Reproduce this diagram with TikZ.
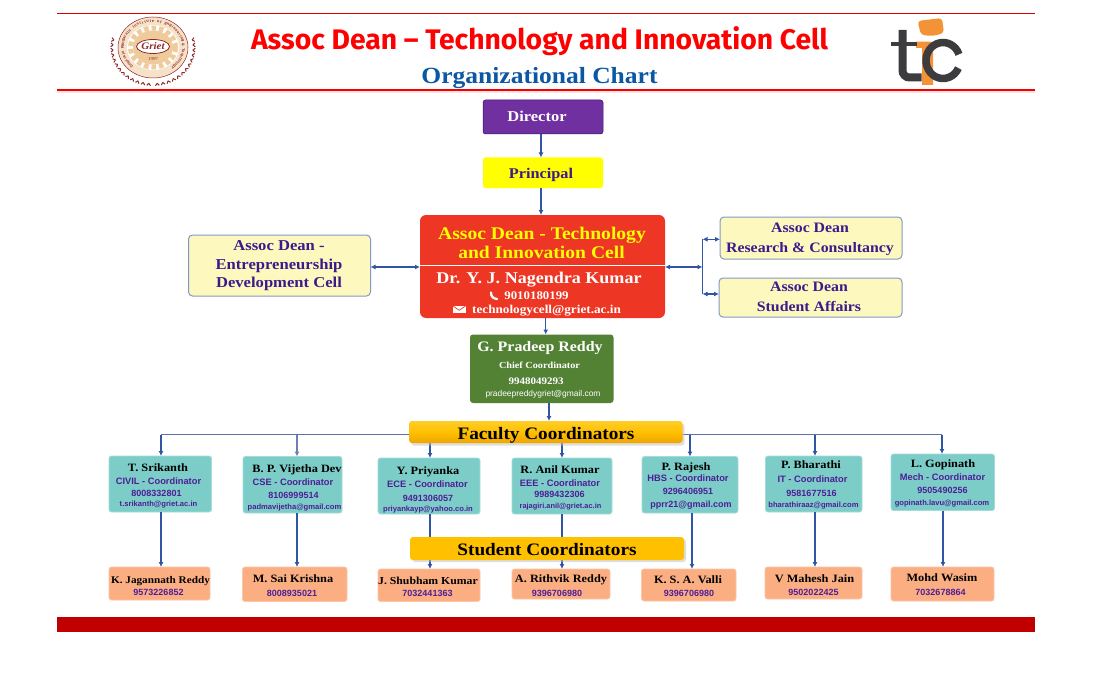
\documentclass[tikz,border=0pt]{standalone}
\usepackage{fontspec}
\setmainfont[FakeStretch=1.1]{Liberation Serif}
\setsansfont{Liberation Sans}
\newfontfamily\titlefont{Fira Sans}
\usetikzlibrary{arrows.meta,calc}
\definecolor{ink}{HTML}{3A1A8C}
\definecolor{pur}{HTML}{4F1E96}
\definecolor{lineblue}{HTML}{2F55A4}
\definecolor{linegrey}{HTML}{6F7FB0}
\definecolor{teal1}{HTML}{7CCDC8}
\definecolor{peach}{HTML}{FBAE82}
\definecolor{pale}{HTML}{FDF8BE}
\definecolor{gold}{HTML}{FFC000}
\definecolor{logotan}{HTML}{EFCB9B}
\definecolor{logored}{HTML}{8E2A2A}
\definecolor{ticdark}{HTML}{3C3C3E}
\definecolor{ticor}{HTML}{F39237}
\definecolor{redfill}{RGB}{238,54,36}
\definecolor{pureyel}{RGB}{255,255,0}
\definecolor{purered}{RGB}{255,0,0}
\newcommand{\bx}[7]{\node[#1,minimum width=#5-#3,minimum height=#7-#6] (#2) at ({(#3+#5)/2},{(#6+#7)/2}) {};}
\newcommand{\fsz}[1]{\fontsize{#1}{#1}\selectfont}
\tikzset{
  box/.style={rounded corners=2.5pt,inner sep=0pt,outer sep=0pt},
  teachbox/.style={box,fill=teal1,draw=teal1!70!white,line width=.8pt},
  studbox/.style={box,fill=peach,draw=peach!70!white,line width=.8pt},
  palebox/.style={box,fill=pale,draw=lineblue!60!white,line width=1pt,rounded corners=4pt},
  conn/.style={draw=lineblue,line width=1.15pt,-{Latex[length=5pt,width=5pt]}},
  both/.style={draw=lineblue,line width=1.15pt,{Latex[length=5pt,width=5pt]}-{Latex[length=5pt,width=5pt]}},
  plainln/.style={draw=lineblue,line width=1.4pt},
  txt/.style={inner sep=0pt,outer sep=0pt},
  srf/.style={txt,font=\bfseries\fsz{#1}},
  snsf/.style={txt,font=\sffamily\bfseries\fsz{#1},text=pur},
  barbox/.style={box,rounded corners=3pt,draw=none},
}
\begin{document}
\begin{tikzpicture}[x=1pt,y=-1pt]
\useasboundingbox (0,0) rectangle (1106,690);
\fill[white] (0,0) rectangle (1106,690);
% header rules
\coordinate (ruleAl) at (57,13.5); \coordinate (ruleAr) at (1035,13.5);
\draw[purered!85!black,line width=1.1pt] (ruleAl) -- (ruleAr);
\coordinate (ruleBl) at (57,90.3); \coordinate (ruleBr) at (1035,90.3);
\fill[purered!12] (57,91) rectangle (1035,93);
\draw[purered!95!black,line width=1.8pt] (ruleBl) -- (ruleBr);
\fill[fill={rgb,255:red,192;green,0;blue,0}] (57,617) rectangle (1035,632);
% titles
\node[txt,font=\titlefont\bfseries\fsz{28.3},text=purered] (title) at (539.5,41.5) {Assoc Dean – Technology and Innovation Cell};
\node[txt,font=\bfseries\fsz{23.2},text={rgb,255:red,10;green,87;blue,164}] (sub) at (539.5,78) {Organizational Chart};
% griet logo
\coordinate (lg) at (153,47.5);
\fill[logotan!55!white] (lg) ellipse (35 and 30.5);
\draw[logored,line width=.5pt] (lg) ellipse (35 and 30.5);
\fill[white] (lg) ellipse (26 and 22.5);
\draw[logotan,line width=5pt,dash pattern=on 4.5pt off 3pt] (lg) ellipse (22.5 and 19.5);
\fill[logotan] (lg) ellipse (20 and 17);
\fill[white] (153,46.5) ellipse (16.5 and 7);
\draw[logored,line width=.8pt] (153,46.5) ellipse (16.5 and 7);
\node[txt,font=\itshape\bfseries\fsz{10},text=logored] (griet) at (153,46.5) {Griet};
\node[txt,font=\fsz{4.5},text=logored] (yr) at (153,59) {1997};
\foreach \ch [count=\i] in {G,o,k,a,r,a,j,u,{},R,a,n,g,a,r,a,j,u,{},I,n,s,t,i,t,u,t,e,{},o,f,{},E,n,g,i,n,e,e,r,i,n,g,{},\&,{},T,e,c,h,n,o,l,o,g,y}{
  \pgfmathsetmacro{\ang}{-225+(\i-1)*270/54}
  \pgfmathsetmacro{\rot}{-\ang-90}
  \node[txt,font=\sffamily\bfseries\fsz{3.9},text=logored,rotate=\rot] (gl\i) at ($(lg)+(\ang:30.5 and 26.5)$) {\ch};
}
\foreach \a [count=\i] in {-12,-4,...,84,96,104,...,192}{
  \coordinate (lf\i) at ($(lg)+(\a:40 and 36)$);
  \draw[logored,line width=1pt] (lf\i) -- ++(\a+40:3);
  \draw[logored,line width=1pt] (lf\i) -- ++(\a-40:3);
}
% tic logo
\fill[ticor,rounded corners=3.5pt] (917.5,21) -- (942,18) -- (944,33) -- (933,36) -- (921,35) -- cycle;
\fill[ticor] (916,41.7) -- (931,41.7) -- (933,45) -- (933,85) -- (922,85) -- (922,48) -- (916,48) -- cycle;
\draw[ticdark,line width=8pt,rounded corners=7pt] (902.5,30) -- (902.5,77.5) -- (921.5,77.5);
\draw[ticdark,line width=4.5pt] (891,44) -- (917,44);
\draw[ticdark,line width=7.5pt] ($(943,60.5)+(-20:17 and 18)$) arc[start angle=-20,end angle=-335,x radius=17,y radius=18];
% top boxes
\bx{box,fill={rgb,255:red,112;green,48;blue,160},draw=pur!70!black,line width=.5pt}{dir}{483}{}{603}{100}{134}
\node[srf=15,text=white] (dirT) at (537,116.5) {Director};
\bx{box,fill=pureyel}{pri}{483}{}{603}{157.5}{188}
\node[srf=14.8,text=ink] (priT) at (541,174.5) {Principal};
\bx{box,fill=redfill,rounded corners=6pt}{redb}{420}{}{665}{215}{318}
\coordinate (sepL) at (420,265); \coordinate (sepR) at (665,265);
\draw[white,line width=1pt] (sepL) -- (sepR);
\node[srf=17.8,text=pureyel] (r1) at (542,235) {Assoc Dean - Technology};
\node[srf=17.8,text=pureyel] (r2) at (541.5,252) {and Innovation Cell};
\node[srf=16.4,text=white] (r3) at (539,280) {Dr. Y. J. Nagendra Kumar};
\draw[white,line width=2.3pt,line cap=round] (491,292.5) .. controls (491,296.5) and (493,298.5) .. (497,299);
\node[srf=11.7,text=white] (r4) at (536.5,295.5) {9010180199};
\fill[white] (453,306) rectangle (465.5,313);
\draw[redfill,line width=.7pt] (453,306) -- (459.2,310.3) -- (465.5,306);
\node[srf=12,text=white] (r5) at (546.5,310.5) {technologycell@griet.ac.in};
% side boxes
\bx{palebox}{ed}{188.5}{}{370.5}{235}{296}
\node[srf=15.1,text=ink] (ed1) at (279,245.5) {Assoc Dean -};
\node[srf=15.1,text=ink] (ed2) at (279,266) {Entrepreneurship};
\node[srf=15.1,text=ink] (ed3) at (279,284) {Development Cell};
\bx{palebox}{rc}{720}{}{902}{217}{259}
\node[srf=14.4,text=ink] (rc1) at (810,228) {Assoc Dean};
\node[srf=14.4,text=ink] (rc2) at (810,249.5) {Research \& Consultancy};
\bx{palebox}{sa}{719}{}{902}{278}{317}
\node[srf=14.4,text=ink] (sa1) at (809,287) {Assoc Dean};
\node[srf=14.4,text=ink] (sa2) at (809,306.5) {Student Affairs};
% chief
\bx{box,fill={rgb,255:red,84;green,130;blue,53},rounded corners=3pt}{ch}{470}{}{613.5}{334.5}{403}
\node[srf=14.5,text=white] (ch1) at (540,348.5) {G. Pradeep Reddy};
\node[srf=9.3,text=white] (ch2) at (539.5,365) {Chief Coordinator};
\node[srf=10,text=white] (ch3) at (536,381) {9948049293};
\node[txt,font=\sffamily\fsz{8.4},text=white] (ch4) at (543,394.5) {pradeepreddygriet@gmail.com};
% main connectors
\coordinate (xa) at (541,0);\coordinate (xb) at (545.7,0);\coordinate (xc) at (549,0);
\draw[conn] (xa |- dir.south) -- (xa |- pri.north);
\draw[conn] (xa |- pri.south) -- (xa |- redb.north);
\draw[conn] (xb |- redb.south) -- (xb |- ch.north);
\coordinate (ly) at (0,267);
\draw[both] (ed.east |- ly) -- (redb.west |- ly);
\coordinate (bk) at (702.5,267);
\draw[both] (redb.east |- ly) -- (bk);
\coordinate (bkT) at (702.5,239.3);\coordinate (bkB) at (702.5,294);
\draw[both] (bkT) -- (rc.west |- bkT);
\draw[both] (bkB) -- (sa.west |- bkB);
\draw[plainln] (bkT) -- (bkB);
% teachers
\bx{teachbox}{t1}{109}{}{211.5}{456}{512}
\bx{teachbox}{t2}{243}{}{342}{456.5}{513}
\bx{teachbox}{t3}{378}{}{480}{458}{514}
\bx{teachbox}{t4}{512}{}{612}{458}{514}
\bx{teachbox}{t5}{642}{}{738}{456.5}{513}
\bx{teachbox}{t6}{765.5}{}{862}{456}{512}
\bx{teachbox}{t7}{891}{}{994.5}{454}{510.5}
% students
\bx{studbox}{s1}{109}{}{210}{567}{600}
\bx{studbox}{s2}{242.5}{}{347}{567}{601.5}
\bx{studbox}{s3}{378}{}{480}{569}{601.5}
\bx{studbox}{s4}{512}{}{610}{569}{599}
\bx{studbox}{s5}{641.5}{}{736}{569}{601}
\bx{studbox}{s6}{765}{}{862}{567}{599}
\bx{studbox}{s7}{891}{}{994}{567}{601}
% bar line and drops
\coordinate (h1) at (161,434.5);\coordinate (h2) at (297,434.5);\coordinate (h3) at (430,434.5);
\coordinate (h4) at (562,434.5);\coordinate (h5) at (690,434.5);\coordinate (h6) at (815,434.5);\coordinate (h7) at (942,434.5);
\draw[plainln,draw=linegrey!70!lineblue,line width=1.3pt] (h1) -- (h7);
\draw[conn] (h1) -- (h1 |- t1.north);
\draw[conn,draw=linegrey] (h2) -- (h2 |- t2.north);
\draw[conn] (h3) -- (h3 |- t3.north);
\draw[conn] (h4) -- (h4 |- t4.north);
\draw[conn] (h5) -- (h5 |- t5.north);
\draw[conn] (h6) -- (h6 |- t6.north);
\draw[conn] (h7) -- (h7 |- t7.north);
% down connectors
\coordinate (d1) at (161,0);\coordinate (d2) at (297,0);\coordinate (d3) at (430,0);\coordinate (d4) at (562,0);
\coordinate (d5) at (692,0);\coordinate (d6) at (815,0);\coordinate (d7) at (943,0);
\foreach \i in {1,...,7}{\draw[conn] (d\i |- t\i.south) -- (d\i |- s\i.north);}
% bars
\fill[black!25,opacity=.5,rounded corners=3pt] (411,423.5) rectangle (684.5,445.5);
\bx{barbox,top color={rgb,255:red,255;green,205;blue,40},bottom color={rgb,255:red,238;green,165;blue,0},middle color=gold}{fac}{409}{}{682.5}{421}{443}
\node[srf=17.5,text=black] (facT) at (546,435) {Faculty Coordinators};
\fill[black!25,opacity=.5,rounded corners=3pt] (412,539) rectangle (686,562);
\bx{barbox,fill=gold}{stu}{410}{}{684}{537}{560}
\node[srf=17.5,text=black] (stuT) at (547,550) {Student Coordinators};
\draw[conn] (xc |- ch.south) -- (xc |- fac.north);
% teacher text
\node[srf=11.2] (a1) at (158,467.5) {T. Srikanth};
\node[snsf=9.3] (b1) at (158.5,481) {CIVIL - Coordinator};
\node[snsf=9] (c1) at (156.5,493.5) {8008332801};
\node[snsf=7.6] (e1) at (158.5,505) {t.srikanth@griet.ac.in};
\node[srf=11.2] (a2) at (297,469.5) {B. P. Vijetha Dev};
\node[snsf=9.3] (b2) at (293,482.5) {CSE - Coordinator};
\node[snsf=9] (c2) at (293.5,495.5) {8106999514};
\node[snsf=7.6] (e2) at (294.5,508) {padmavijetha@gmail.com};
\node[srf=11.2] (a3) at (428,472) {Y. Priyanka};
\node[snsf=9.3] (b3) at (427.5,484.5) {ECE - Coordinator};
\node[snsf=9] (c3) at (428,498) {9491306057};
\node[snsf=7.6] (e3) at (428,509.5) {priyankayp@yahoo.co.in};
\node[srf=11.2] (a4) at (560,469.5) {R. Anil Kumar};
\node[snsf=9.3] (b4) at (560,483) {EEE - Coordinator};
\node[snsf=9] (c4) at (559.5,494.5) {9989432306};
\node[snsf=7.4] (e4) at (560.5,507) {rajagiri.anil@griet.ac.in};
\node[srf=11.2] (a5) at (686,467.5) {P. Rajesh};
\node[snsf=9.3] (b5) at (688,478.5) {HBS - Coordinator};
\node[snsf=9] (c5) at (688,491.5) {9296406951};
\node[snsf=9] (e5) at (691,505) {pprr21@gmail.com};
\node[srf=11.2] (a6) at (811,465) {P. Bharathi};
\node[snsf=9.3] (b6) at (812.5,479.5) {IT - Coordinator};
\node[snsf=9] (c6) at (811.5,493) {9581677516};
\node[snsf=7.6] (e6) at (813.5,505.5) {bharathiraaz@gmail.com};
\node[srf=11.2] (a7) at (943,464.5) {L. Gopinath};
\node[snsf=9.3] (b7) at (942.5,477) {Mech - Coordinator};
\node[snsf=9] (c7) at (942.5,490) {9505490256};
\node[snsf=7.6] (e7) at (942,503.5) {gopinath.lavu@gmail.com};
% student text
\node[srf=10.2] (n1) at (160.5,581) {K. Jagannath Reddy};
\node[snsf=9] (p1) at (158.5,592.5) {9573226852};
\node[srf=11.2] (n2) at (293,579) {M. Sai Krishna};
\node[snsf=9] (p2) at (292,593) {8008935021};
\node[srf=10.7] (n3) at (428,580.5) {J. Shubham Kumar};
\node[snsf=9] (p3) at (427.5,593.5) {7032441363};
\node[srf=11.2] (n4) at (561,579.5) {A. Rithvik Reddy};
\node[snsf=9] (p4) at (557,593) {9396706980};
\node[srf=11.2] (n5) at (688,579.5) {K. S. A. Valli};
\node[snsf=9] (p5) at (689,593) {9396706980};
\node[srf=11.2] (n6) at (814.5,579) {V Mahesh Jain};
\node[snsf=9] (p6) at (813.5,592.5) {9502022425};
\node[srf=11.2] (n7) at (942,577.5) {Mohd Wasim};
\node[snsf=9] (p7) at (940.5,592.5) {7032678864};
\end{tikzpicture}
\end{document}
